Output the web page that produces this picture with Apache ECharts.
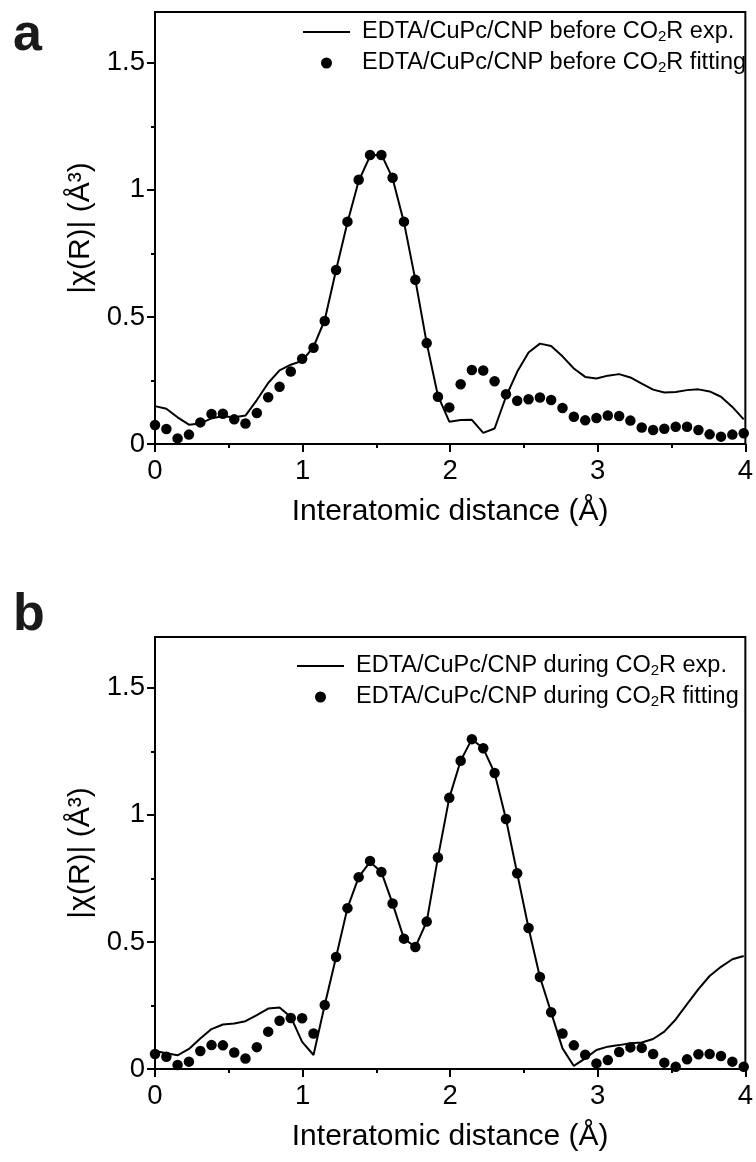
<!DOCTYPE html>
<html><head><meta charset="utf-8">
<script src="https://cdn.jsdelivr.net/npm/echarts@6/dist/echarts.min.js"></script>
<style>html,body{margin:0;padding:0;background:#fff}#c{width:756px;height:1162px}</style>
</head><body><div id="c"></div>
<script>
// R grid (Å)
const rGrid = [0, 0.077, 0.153, 0.230, 0.307, 0.383, 0.460, 0.537, 0.613, 0.690, 0.767, 0.844, 0.920, 0.997, 1.074, 1.150, 1.227, 1.304, 1.380, 1.457, 1.534, 1.610, 1.687, 1.764, 1.841, 1.917, 1.994, 2.071, 2.147, 2.224, 2.301, 2.378, 2.454, 2.531, 2.608, 2.684, 2.761, 2.838, 2.915, 2.991, 3.068, 3.145, 3.221, 3.298, 3.375, 3.451, 3.528, 3.605, 3.682, 3.758, 3.835, 3.912, 3.989];
// panel a: before CO2R
const aExp = [0.149, 0.139, 0.105, 0.076, 0.081, 0.101, 0.109, 0.105, 0.112, 0.173, 0.240, 0.290, 0.312, 0.327, 0.382, 0.488, 0.685, 0.872, 1.035, 1.133, 1.140, 1.045, 0.872, 0.646, 0.397, 0.190, 0.088, 0.094, 0.095, 0.044, 0.061, 0.186, 0.284, 0.360, 0.395, 0.386, 0.345, 0.297, 0.264, 0.258, 0.269, 0.275, 0.262, 0.238, 0.214, 0.203, 0.205, 0.212, 0.215, 0.207, 0.186, 0.146, 0.097];
const aFit = [0.075, 0.059, 0.022, 0.037, 0.085, 0.118, 0.119, 0.097, 0.081, 0.122, 0.184, 0.225, 0.285, 0.335, 0.379, 0.484, 0.685, 0.875, 1.040, 1.137, 1.137, 1.048, 0.875, 0.646, 0.397, 0.186, 0.144, 0.235, 0.291, 0.289, 0.247, 0.196, 0.170, 0.176, 0.183, 0.173, 0.142, 0.107, 0.093, 0.102, 0.112, 0.110, 0.092, 0.065, 0.055, 0.060, 0.068, 0.068, 0.055, 0.038, 0.029, 0.037, 0.042];
// panel b: during CO2R
const bExp = [0.071, 0.062, 0.054, 0.079, 0.120, 0.157, 0.175, 0.179, 0.188, 0.212, 0.238, 0.242, 0.205, 0.107, 0.055, 0.252, 0.441, 0.633, 0.755, 0.815, 0.775, 0.651, 0.513, 0.480, 0.580, 0.832, 1.067, 1.213, 1.298, 1.262, 1.165, 0.984, 0.770, 0.555, 0.362, 0.223, 0.081, 0.012, 0.042, 0.075, 0.088, 0.094, 0.101, 0.104, 0.118, 0.147, 0.195, 0.255, 0.314, 0.366, 0.402, 0.432, 0.445];
const bFit = [0.059, 0.048, 0.016, 0.029, 0.071, 0.094, 0.093, 0.065, 0.041, 0.086, 0.147, 0.190, 0.201, 0.200, 0.140, 0.252, 0.441, 0.633, 0.755, 0.819, 0.775, 0.651, 0.513, 0.480, 0.580, 0.832, 1.067, 1.213, 1.298, 1.262, 1.165, 0.984, 0.770, 0.555, 0.362, 0.223, 0.140, 0.093, 0.056, 0.022, 0.035, 0.067, 0.085, 0.083, 0.059, 0.025, 0.009, 0.038, 0.058, 0.059, 0.051, 0.029, 0.009];
// ticks
const xMajorTicks = [0, 1, 2, 3, 4];
const xMinorTicks = [0.5, 1.5, 2.5, 3.5];
const yMajorTicks = [0, 0.5, 1, 1.5];
const yMinorTicks = [0.25, 0.75, 1.25];
// names
const namesA = ['EDTA/CuPc/CNP before CO2R exp.', 'EDTA/CuPc/CNP before CO2R fitting'];
const namesB = ['EDTA/CuPc/CNP during CO2R exp.', 'EDTA/CuPc/CNP during CO2R fitting'];
const xTitle = 'Interatomic distance (Å)';
const yTitle = '|χ(R)| (Å³)';
const panelLetters = ['a', 'b'];

const FONT = 'Liberation Sans, Arial, sans-serif';
const grids = [
  {left: 155, top: 12, width: 591, height: 432},
  {left: 155, top: 637, width: 591, height: 432}
];

function majorX(g) {
  return {type: 'value', gridIndex: g, min: 0, max: 4, position: 'bottom',
    axisLine: {show: true, onZero: false, lineStyle: {color: '#000', width: 2}},
    axisTick: {show: true, length: 8, lineStyle: {color: '#000', width: 2}, customValues: xMajorTicks},
    axisLabel: {customValues: xMajorTicks, fontSize: 27.5, color: '#000', margin: 13, fontFamily: FONT},
    splitLine: {show: false},
    name: xTitle, nameLocation: 'middle', nameGap: 53,
    nameTextStyle: {fontSize: 30, color: '#000', fontFamily: FONT}};
}
function minorX(g) {
  return {type: 'value', gridIndex: g, min: 0, max: 4, position: 'bottom',
    axisLine: {show: false, onZero: false},
    axisTick: {show: true, length: 4, lineStyle: {color: '#000', width: 2}, customValues: xMinorTicks},
    axisLabel: {show: false}, splitLine: {show: false}};
}
function majorY(g) {
  return {type: 'value', gridIndex: g, min: 0, max: 1.7, position: 'left',
    axisLine: {show: true, onZero: false, lineStyle: {color: '#000', width: 2}},
    axisTick: {show: true, length: 8, lineStyle: {color: '#000', width: 2}, customValues: yMajorTicks},
    axisLabel: {customValues: yMajorTicks, fontSize: 27.5, color: '#000', margin: 10, fontFamily: FONT},
    splitLine: {show: false},
    name: yTitle, nameLocation: 'middle', nameGap: 55,
    nameTextStyle: {fontSize: 30, color: '#000', fontFamily: FONT}};
}
function minorY(g) {
  return {type: 'value', gridIndex: g, min: 0, max: 1.7, position: 'left',
    axisLine: {show: false, onZero: false},
    axisTick: {show: true, length: 4, lineStyle: {color: '#000', width: 2}, customValues: yMinorTicks},
    axisLabel: {show: false}, splitLine: {show: false}};
}
function fmt(name) { return name.replace('CO2R', 'CO{s|2}R'); }
const lineIcon = 'path://M0,0L47,0L47,2L0,2Z';
function legendFor(names, left, top) {
  return {orient: 'vertical', left: left, top: top, itemWidth: 47, itemHeight: 11, itemGap: 7,
    data: [{name: names[0], icon: lineIcon}, {name: names[1], icon: 'circle'}], formatter: fmt,
    textStyle: {fontSize: 23.5, color: '#000', fontFamily: FONT, lineHeight: 24, padding: [0, 0, 0, 7],
      rich: {s: {fontSize: 15, color: '#000', fontFamily: FONT, verticalAlign: 'bottom', padding: [12, 0, 0, 0]}}}};
}
function pair(ys) { return rGrid.map((r, i) => [r, ys[i]]); }

const series = [];
[[namesA, aExp, aFit], [namesB, bExp, bFit]].forEach(([nm, ex, fi], g) => {
  series.push({name: nm[0], type: 'line', xAxisIndex: 2 * g, yAxisIndex: 2 * g, data: pair(ex),
    symbol: 'none', showSymbol: false, lineStyle: {color: '#000', width: 2}, itemStyle: {color: '#000'}, z: 2, animation: false});
  series.push({name: nm[1], type: 'scatter', xAxisIndex: 2 * g, yAxisIndex: 2 * g, data: pair(fi),
    symbol: 'circle', symbolSize: 10.5, itemStyle: {color: '#000', opacity: 1}, z: 3, animation: false});
});

const chart = echarts.init(document.getElementById('c'), null, {renderer: 'canvas'});
chart.setOption({
  backgroundColor: '#fff',
  animation: false,
  title: [
    {text: panelLetters[0], left: 8, top: 5, textStyle: {fontSize: 52, fontWeight: 'bold', color: '#1a1a1a', fontFamily: FONT}},
    {text: panelLetters[1], left: 8, top: 585, textStyle: {fontSize: 52, fontWeight: 'bold', color: '#1a1a1a', fontFamily: FONT}}
  ],
  grid: grids.map(g => Object.assign({show: true, borderColor: '#000', borderWidth: 2, backgroundColor: 'transparent'}, g)),
  xAxis: [majorX(0), minorX(0), majorX(1), minorX(1)],
  yAxis: [majorY(0), minorY(0), majorY(1), minorY(1)],
  legend: [legendFor(namesA, 298, 15), legendFor(namesB, 292, 649)],
  series: series
});
</script></body></html>
